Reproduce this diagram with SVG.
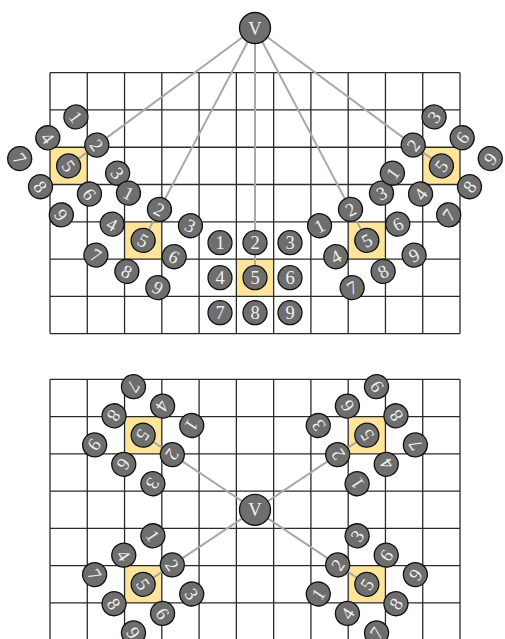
<svg xmlns="http://www.w3.org/2000/svg" width="505" height="639" viewBox="0 0 505 639">
<style>
.cell{fill:#ffe59a}
.grid{fill:none;stroke:#2a2a2a;stroke-width:1.3}
.edge{stroke:#a8a8a8;stroke-width:2;fill:none}
.k circle{fill:#6e6e6e;stroke:#111;stroke-width:1.3}
.k text{font-family:"Liberation Serif","Times New Roman",serif;font-size:18.5px;fill:#f0f0f0;text-anchor:middle}
.v circle{fill:#6e6e6e;stroke:#111;stroke-width:1.3}
.v text{font-family:"Liberation Serif","Times New Roman",serif;font-size:18.5px;fill:#f0f0f0;text-anchor:middle}
</style>
<rect width="505" height="639" fill="#fff"/>
<g id="board-top">
<rect class="cell" x="50" y="147.25" width="37.27" height="37.27"/>
<rect class="cell" x="124.55" y="221.79" width="37.27" height="37.27"/>
<rect class="cell" x="236.36" y="259.06" width="37.27" height="37.27"/>
<rect class="cell" x="348.18" y="221.79" width="37.27" height="37.27"/>
<rect class="cell" x="422.73" y="147.25" width="37.27" height="37.27"/>
<path class="grid" d="M50 72.7V333.61M87.27 72.7V333.61M124.55 72.7V333.61M161.82 72.7V333.61M199.09 72.7V333.61M236.36 72.7V333.61M273.64 72.7V333.61M310.91 72.7V333.61M348.18 72.7V333.61M385.45 72.7V333.61M422.73 72.7V333.61M460 72.7V333.61M50 72.7H460M50 109.97H460M50 147.25H460M50 184.52H460M50 221.79H460M50 259.06H460M50 296.34H460M50 333.61H460"/>
</g>
<g id="board-bottom">
<rect class="cell" x="124.55" y="416.57" width="37.27" height="37.27"/>
<rect class="cell" x="348.18" y="416.57" width="37.27" height="37.27"/>
<rect class="cell" x="124.55" y="565.66" width="37.27" height="37.27"/>
<rect class="cell" x="348.18" y="565.66" width="37.27" height="37.27"/>
<path class="grid" d="M50 379.3V640.21M87.27 379.3V640.21M124.55 379.3V640.21M161.82 379.3V640.21M199.09 379.3V640.21M236.36 379.3V640.21M273.64 379.3V640.21M310.91 379.3V640.21M348.18 379.3V640.21M385.45 379.3V640.21M422.73 379.3V640.21M460 379.3V640.21M50 379.3H460M50 416.57H460M50 453.85H460M50 491.12H460M50 528.39H460M50 565.66H460M50 602.94H460M50 640.21H460"/>
</g>
<g id="connectors">
<line class="edge" x1="255" y1="28" x2="68.64" y2="165.9"/>
<line class="edge" x1="255" y1="28" x2="143.18" y2="240.4"/>
<line class="edge" x1="255" y1="28" x2="255" y2="277.7"/>
<line class="edge" x1="255" y1="28" x2="366.82" y2="240.4"/>
<line class="edge" x1="255" y1="28" x2="441.36" y2="165.9"/>
<line class="edge" x1="255" y1="509.8" x2="143.18" y2="435.2"/>
<line class="edge" x1="255" y1="509.8" x2="366.82" y2="435.2"/>
<line class="edge" x1="255" y1="509.8" x2="143.18" y2="584.3"/>
<line class="edge" x1="255" y1="509.8" x2="366.82" y2="584.3"/>
</g>
<g id="v-top" class="v"><circle cx="255" cy="28" r="15.5"/><text x="255" y="34.5">V</text></g>
<g id="v-bottom" class="v"><circle cx="255" cy="509.8" r="15.5"/><text x="255" y="516.3">V</text></g>

<g id="kp-t1" class="k" transform="translate(68.64 165.9) rotate(53.5)">
<g id="t1-1"><circle cx="-35" cy="-35" r="12"/><text x="-35" y="-28.5">1</text></g>
<g id="t1-2"><circle cx="0" cy="-35" r="12"/><text x="0" y="-28.5">2</text></g>
<g id="t1-3"><circle cx="35" cy="-35" r="12"/><text x="35" y="-28.5">3</text></g>
<g id="t1-4"><circle cx="-35" cy="0" r="12"/><text x="-35" y="6.5">4</text></g>
<g id="t1-5"><circle cx="0" cy="0" r="12"/><text x="0" y="6.5">5</text></g>
<g id="t1-6"><circle cx="35" cy="0" r="12"/><text x="35" y="6.5">6</text></g>
<g id="t1-7"><circle cx="-35" cy="35" r="12"/><text x="-35" y="41.5">7</text></g>
<g id="t1-8"><circle cx="0" cy="35" r="12"/><text x="0" y="41.5">8</text></g>
<g id="t1-9"><circle cx="35" cy="35" r="12"/><text x="35" y="41.5">9</text></g>
</g>
<g id="kp-t2" class="k" transform="translate(143.18 240.4) rotate(27.76)">
<g id="t2-1"><circle cx="-35" cy="-35" r="12"/><text x="-35" y="-28.5">1</text></g>
<g id="t2-2"><circle cx="0" cy="-35" r="12"/><text x="0" y="-28.5">2</text></g>
<g id="t2-3"><circle cx="35" cy="-35" r="12"/><text x="35" y="-28.5">3</text></g>
<g id="t2-4"><circle cx="-35" cy="0" r="12"/><text x="-35" y="6.5">4</text></g>
<g id="t2-5"><circle cx="0" cy="0" r="12"/><text x="0" y="6.5">5</text></g>
<g id="t2-6"><circle cx="35" cy="0" r="12"/><text x="35" y="6.5">6</text></g>
<g id="t2-7"><circle cx="-35" cy="35" r="12"/><text x="-35" y="41.5">7</text></g>
<g id="t2-8"><circle cx="0" cy="35" r="12"/><text x="0" y="41.5">8</text></g>
<g id="t2-9"><circle cx="35" cy="35" r="12"/><text x="35" y="41.5">9</text></g>
</g>
<g id="kp-t3" class="k" transform="translate(255 277.7)">
<g id="t3-1"><circle cx="-35" cy="-35" r="12"/><text x="-35" y="-28.5">1</text></g>
<g id="t3-2"><circle cx="0" cy="-35" r="12"/><text x="0" y="-28.5">2</text></g>
<g id="t3-3"><circle cx="35" cy="-35" r="12"/><text x="35" y="-28.5">3</text></g>
<g id="t3-4"><circle cx="-35" cy="0" r="12"/><text x="-35" y="6.5">4</text></g>
<g id="t3-5"><circle cx="0" cy="0" r="12"/><text x="0" y="6.5">5</text></g>
<g id="t3-6"><circle cx="35" cy="0" r="12"/><text x="35" y="6.5">6</text></g>
<g id="t3-7"><circle cx="-35" cy="35" r="12"/><text x="-35" y="41.5">7</text></g>
<g id="t3-8"><circle cx="0" cy="35" r="12"/><text x="0" y="41.5">8</text></g>
<g id="t3-9"><circle cx="35" cy="35" r="12"/><text x="35" y="41.5">9</text></g>
</g>
<g id="kp-t4" class="k" transform="translate(366.82 240.4) rotate(-27.76)">
<g id="t4-1"><circle cx="-35" cy="-35" r="12"/><text x="-35" y="-28.5">1</text></g>
<g id="t4-2"><circle cx="0" cy="-35" r="12"/><text x="0" y="-28.5">2</text></g>
<g id="t4-3"><circle cx="35" cy="-35" r="12"/><text x="35" y="-28.5">3</text></g>
<g id="t4-4"><circle cx="-35" cy="0" r="12"/><text x="-35" y="6.5">4</text></g>
<g id="t4-5"><circle cx="0" cy="0" r="12"/><text x="0" y="6.5">5</text></g>
<g id="t4-6"><circle cx="35" cy="0" r="12"/><text x="35" y="6.5">6</text></g>
<g id="t4-7"><circle cx="-35" cy="35" r="12"/><text x="-35" y="41.5">7</text></g>
<g id="t4-8"><circle cx="0" cy="35" r="12"/><text x="0" y="41.5">8</text></g>
<g id="t4-9"><circle cx="35" cy="35" r="12"/><text x="35" y="41.5">9</text></g>
</g>
<g id="kp-t5" class="k" transform="translate(441.36 165.9) rotate(-53.5)">
<g id="t5-1"><circle cx="-35" cy="-35" r="12"/><text x="-35" y="-28.5">1</text></g>
<g id="t5-2"><circle cx="0" cy="-35" r="12"/><text x="0" y="-28.5">2</text></g>
<g id="t5-3"><circle cx="35" cy="-35" r="12"/><text x="35" y="-28.5">3</text></g>
<g id="t5-4"><circle cx="-35" cy="0" r="12"/><text x="-35" y="6.5">4</text></g>
<g id="t5-5"><circle cx="0" cy="0" r="12"/><text x="0" y="6.5">5</text></g>
<g id="t5-6"><circle cx="35" cy="0" r="12"/><text x="35" y="6.5">6</text></g>
<g id="t5-7"><circle cx="-35" cy="35" r="12"/><text x="-35" y="41.5">7</text></g>
<g id="t5-8"><circle cx="0" cy="35" r="12"/><text x="0" y="41.5">8</text></g>
<g id="t5-9"><circle cx="35" cy="35" r="12"/><text x="35" y="41.5">9</text></g>
</g>

<g id="kp-b1" class="k" transform="translate(143.18 435.2) rotate(123.7)">
<g id="b1-1"><circle cx="-35" cy="-35" r="12"/><text x="-35" y="-28.5">1</text></g>
<g id="b1-2"><circle cx="0" cy="-35" r="12"/><text x="0" y="-28.5">2</text></g>
<g id="b1-3"><circle cx="35" cy="-35" r="12"/><text x="35" y="-28.5">3</text></g>
<g id="b1-4"><circle cx="-35" cy="0" r="12"/><text x="-35" y="6.5">4</text></g>
<g id="b1-5"><circle cx="0" cy="0" r="12"/><text x="0" y="6.5">5</text></g>
<g id="b1-6"><circle cx="35" cy="0" r="12"/><text x="35" y="6.5">6</text></g>
<g id="b1-7"><circle cx="-35" cy="35" r="12"/><text x="-35" y="41.5">7</text></g>
<g id="b1-8"><circle cx="0" cy="35" r="12"/><text x="0" y="41.5">8</text></g>
<g id="b1-9"><circle cx="35" cy="35" r="12"/><text x="35" y="41.5">9</text></g>
</g>
<g id="kp-b2" class="k" transform="translate(366.82 435.2) rotate(-123.7)">
<g id="b2-1"><circle cx="-35" cy="-35" r="12"/><text x="-35" y="-28.5">1</text></g>
<g id="b2-2"><circle cx="0" cy="-35" r="12"/><text x="0" y="-28.5">2</text></g>
<g id="b2-3"><circle cx="35" cy="-35" r="12"/><text x="35" y="-28.5">3</text></g>
<g id="b2-4"><circle cx="-35" cy="0" r="12"/><text x="-35" y="6.5">4</text></g>
<g id="b2-5"><circle cx="0" cy="0" r="12"/><text x="0" y="6.5">5</text></g>
<g id="b2-6"><circle cx="35" cy="0" r="12"/><text x="35" y="6.5">6</text></g>
<g id="b2-7"><circle cx="-35" cy="35" r="12"/><text x="-35" y="41.5">7</text></g>
<g id="b2-8"><circle cx="0" cy="35" r="12"/><text x="0" y="41.5">8</text></g>
<g id="b2-9"><circle cx="35" cy="35" r="12"/><text x="35" y="41.5">9</text></g>
</g>
<g id="kp-b3" class="k" transform="translate(143.18 584.3) rotate(56.3)">
<g id="b3-1"><circle cx="-35" cy="-35" r="12"/><text x="-35" y="-28.5">1</text></g>
<g id="b3-2"><circle cx="0" cy="-35" r="12"/><text x="0" y="-28.5">2</text></g>
<g id="b3-3"><circle cx="35" cy="-35" r="12"/><text x="35" y="-28.5">3</text></g>
<g id="b3-4"><circle cx="-35" cy="0" r="12"/><text x="-35" y="6.5">4</text></g>
<g id="b3-5"><circle cx="0" cy="0" r="12"/><text x="0" y="6.5">5</text></g>
<g id="b3-6"><circle cx="35" cy="0" r="12"/><text x="35" y="6.5">6</text></g>
<g id="b3-7"><circle cx="-35" cy="35" r="12"/><text x="-35" y="41.5">7</text></g>
<g id="b3-8"><circle cx="0" cy="35" r="12"/><text x="0" y="41.5">8</text></g>
<g id="b3-9"><circle cx="35" cy="35" r="12"/><text x="35" y="41.5">9</text></g>
</g>
<g id="kp-b4" class="k" transform="translate(366.82 584.3) rotate(-56.3)">
<g id="b4-1"><circle cx="-35" cy="-35" r="12"/><text x="-35" y="-28.5">1</text></g>
<g id="b4-2"><circle cx="0" cy="-35" r="12"/><text x="0" y="-28.5">2</text></g>
<g id="b4-3"><circle cx="35" cy="-35" r="12"/><text x="35" y="-28.5">3</text></g>
<g id="b4-4"><circle cx="-35" cy="0" r="12"/><text x="-35" y="6.5">4</text></g>
<g id="b4-5"><circle cx="0" cy="0" r="12"/><text x="0" y="6.5">5</text></g>
<g id="b4-6"><circle cx="35" cy="0" r="12"/><text x="35" y="6.5">6</text></g>
<g id="b4-7"><circle cx="-35" cy="35" r="12"/><text x="-35" y="41.5">7</text></g>
<g id="b4-8"><circle cx="0" cy="35" r="12"/><text x="0" y="41.5">8</text></g>
<g id="b4-9"><circle cx="35" cy="35" r="12"/><text x="35" y="41.5">9</text></g>
</g>
</svg>
